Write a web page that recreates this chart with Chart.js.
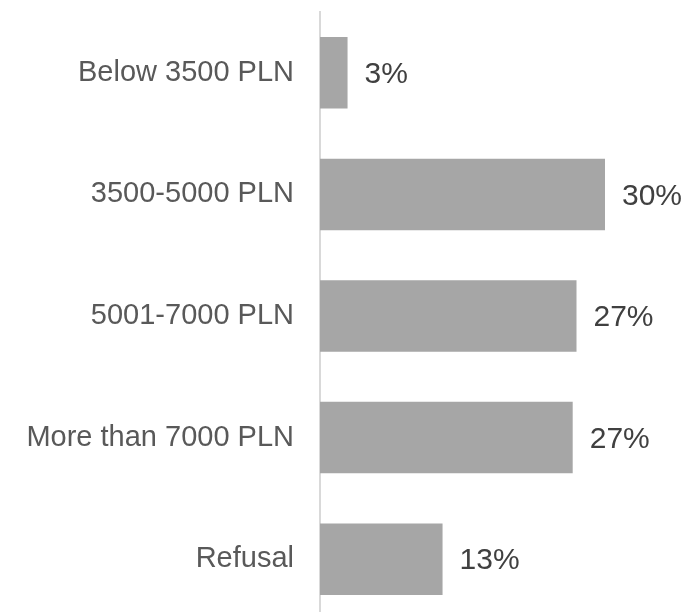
<!DOCTYPE html>
<html>
<head>
<meta charset="utf-8">
<script src="https://cdn.jsdelivr.net/npm/chart.js@4"></script>
<style>
    html, body { margin: 0; padding: 0; background: #fff; overflow: hidden; }
    #wrap { width: 690px; height: 620px; }
</style>
</head>
<body>
<div id="wrap"><canvas id="incomeChart"></canvas></div>
<script>
const categories = ['Below 3500 PLN', '3500-5000 PLN', '5001-7000 PLN', 'More than 7000 PLN', 'Refusal'];
const shares = [2.9, 30.0, 27.0, 26.6, 12.9];
const shareLabels = ['3%', '30%', '27%', '27%', '13%'];

const valueLabels = {
    id: 'valueLabels',
    afterDatasetsDraw(chart) {
        const ctx = chart.ctx;
        const meta = chart.getDatasetMeta(0);
        ctx.save();
        ctx.font = '30px "Liberation Sans", Arial, sans-serif';
        ctx.fillStyle = '#404040';
        ctx.textAlign = 'left';
        ctx.textBaseline = 'middle';
        meta.data.forEach((bar, i) => {
            ctx.fillText(shareLabels[i], bar.x + 17, bar.y + 2);
        });
        ctx.restore();
    }
};

const ctx = document.getElementById('incomeChart').getContext('2d');
new Chart(ctx, {
    type: 'bar',
    data: {
        labels: categories,
        datasets: [{
            data: shares,
            backgroundColor: '#a6a6a6',
            barPercentage: 0.588,
            categoryPercentage: 1
        }]
    },
    options: {
        indexAxis: 'y',
        responsive: true,
        maintainAspectRatio: false,
        animation: false,
        layout: {
            padding: { top: 12, right: 28, bottom: 0, left: 0 }
        },
        plugins: {
            legend: { display: false },
            tooltip: { enabled: false }
        },
        scales: {
            x: {
                display: false,
                min: 0,
                max: 36
            },
            y: {
                afterFit: scale => {
                    scale.width = 320;
                    // no extra room above/below for tick labels
                    scale.paddingTop = 0;
                    scale.paddingBottom = 0;
                },
                grid: { display: true, drawOnChartArea: false, drawTicks: false },
                border: { display: true, color: '#d9d9d9', width: 2 },
                ticks: {
                    color: '#595959',
                    padding: 26,
                    font: { family: '"Liberation Sans", Arial, sans-serif', size: 29 }
                }
            }
        }
    },
    plugins: [valueLabels]
});
</script>
</body>
</html>
